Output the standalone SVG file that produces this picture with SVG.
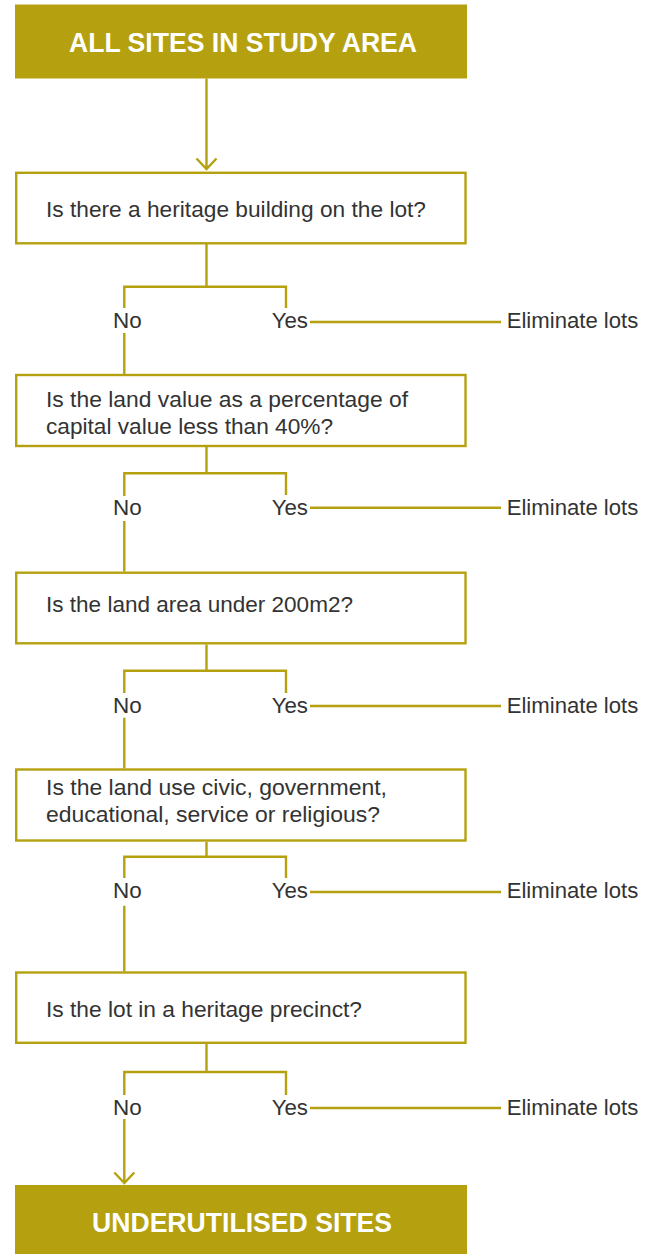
<svg xmlns="http://www.w3.org/2000/svg" width="652" height="1254" viewBox="0 0 652 1254">
<style>
.term{fill:#B5A110}
.box{fill:#fff;stroke:#B5A110;stroke-width:2.4}
.ln{fill:none;stroke:#B5A110;stroke-width:2.4}
.tt{font-family:"Liberation Sans",Arial,sans-serif;font-weight:bold;font-size:27px;fill:#fff;text-anchor:middle}
.q{font-family:"Liberation Sans",Arial,sans-serif;font-size:22.5px;fill:#333}
.lb{font-family:"Liberation Sans",Arial,sans-serif;font-size:22px;fill:#333}
</style>
<rect width="652" height="1254" fill="#fff"/>
<g id="start">
<rect class="term" x="15" y="4.5" width="452" height="74"/>
<text class="tt" x="243" y="51.5" textLength="348" lengthAdjust="spacingAndGlyphs">ALL SITES IN STUDY AREA</text>
</g>
<g id="q1">
<rect class="box" x="16.2" y="172.8" width="449.3" height="70.5"/>
<text class="q" x="46" y="216.7" textLength="380" lengthAdjust="spacingAndGlyphs">Is there a heritage building on the lot?</text>
</g>
<g id="q2">
<rect class="box" x="16.2" y="375" width="449.3" height="71"/>
<text class="q" x="46" y="406.7" textLength="362" lengthAdjust="spacingAndGlyphs">Is the land value as a percentage of</text>
<text class="q" x="46" y="434" textLength="287" lengthAdjust="spacingAndGlyphs">capital value less than 40%?</text>
</g>
<g id="q3">
<rect class="box" x="16.2" y="572.7" width="449.3" height="70.6"/>
<text class="q" x="46" y="611.7" textLength="307" lengthAdjust="spacingAndGlyphs">Is the land area under 200m2?</text>
</g>
<g id="q4">
<rect class="box" x="16.2" y="769.5" width="449.3" height="71"/>
<text class="q" x="46" y="795" textLength="341" lengthAdjust="spacingAndGlyphs">Is the land use civic, government,</text>
<text class="q" x="46" y="822" textLength="334" lengthAdjust="spacingAndGlyphs">educational, service or religious?</text>
</g>
<g id="q5">
<rect class="box" x="16.2" y="972.5" width="449.3" height="70.3"/>
<text class="q" x="46" y="1017" textLength="316" lengthAdjust="spacingAndGlyphs">Is the lot in a heritage precinct?</text>
</g>
<g id="end">
<rect class="term" x="15" y="1185" width="452" height="69"/>
<text class="tt" x="242" y="1231.5" textLength="300" lengthAdjust="spacingAndGlyphs">UNDERUTILISED SITES</text>
</g>
<g id="labels">
<text class="lb" x="113" y="328" textLength="28.7" lengthAdjust="spacingAndGlyphs">No</text>
<text class="lb" x="271.7" y="328" textLength="36.3" lengthAdjust="spacingAndGlyphs">Yes</text>
<text class="lb" x="506.7" y="328" textLength="131.6" lengthAdjust="spacingAndGlyphs">Eliminate lots</text>
<text class="lb" x="113" y="515" textLength="28.7" lengthAdjust="spacingAndGlyphs">No</text>
<text class="lb" x="271.7" y="515" textLength="36.3" lengthAdjust="spacingAndGlyphs">Yes</text>
<text class="lb" x="506.7" y="515" textLength="131.6" lengthAdjust="spacingAndGlyphs">Eliminate lots</text>
<text class="lb" x="113" y="713" textLength="28.7" lengthAdjust="spacingAndGlyphs">No</text>
<text class="lb" x="271.7" y="713" textLength="36.3" lengthAdjust="spacingAndGlyphs">Yes</text>
<text class="lb" x="506.7" y="713" textLength="131.6" lengthAdjust="spacingAndGlyphs">Eliminate lots</text>
<text class="lb" x="113" y="898" textLength="28.7" lengthAdjust="spacingAndGlyphs">No</text>
<text class="lb" x="271.7" y="898" textLength="36.3" lengthAdjust="spacingAndGlyphs">Yes</text>
<text class="lb" x="506.7" y="898" textLength="131.6" lengthAdjust="spacingAndGlyphs">Eliminate lots</text>
<text class="lb" x="113" y="1115" textLength="28.7" lengthAdjust="spacingAndGlyphs">No</text>
<text class="lb" x="271.7" y="1115" textLength="36.3" lengthAdjust="spacingAndGlyphs">Yes</text>
<text class="lb" x="506.7" y="1115" textLength="131.6" lengthAdjust="spacingAndGlyphs">Eliminate lots</text>
</g>
<g id="connectors">
<path class="ln" d="M206.5 78.5V169M196.5 158.5L206.5 169L216.5 158.5"/>
<path class="ln" d="M206.5 244V286.7M124.3 308V286.7H286V308M310 322H501M124.3 333V374"/>
<path class="ln" d="M206.5 447V473.3M124.3 496V473.3H286V495M310 507.7H501M124.3 521V571.5"/>
<path class="ln" d="M206.5 644.5V670.7M124.3 693V670.7H286V693M310 706H501M124.3 717.7V768.3"/>
<path class="ln" d="M206.5 841.7V856.7M124.3 878V856.7H286V878M310 892H501M124.3 905.7V971.3"/>
<path class="ln" d="M206.5 1044V1072M124.3 1095V1072H286V1095M310 1108H501M124.3 1119V1183M114.3 1172.5L124.3 1183L134.3 1172.5"/>
</g>
</svg>
